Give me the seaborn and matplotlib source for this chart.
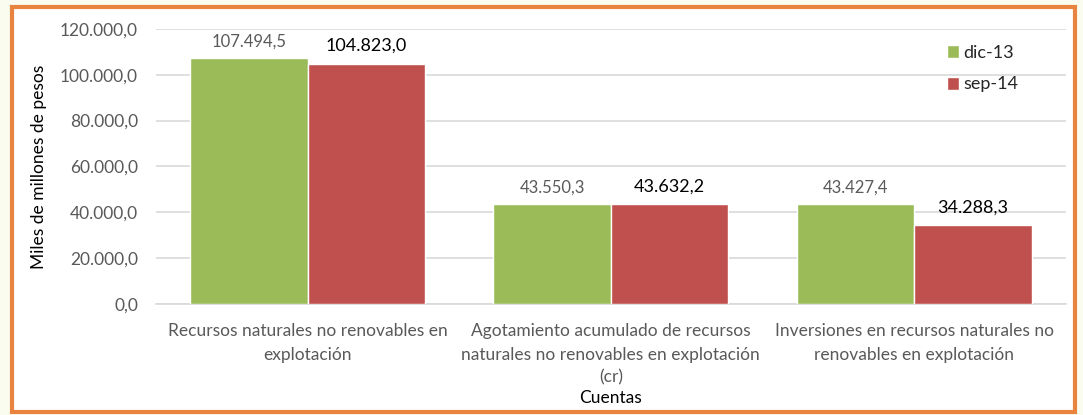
import matplotlib
matplotlib.use("Agg")
import matplotlib.pyplot as plt
import seaborn as sns
import pandas as pd
from matplotlib.patches import Rectangle
from matplotlib.ticker import FuncFormatter

cuentas = [
    "Recursos naturales no renovables en\nexplotación",
    "Agotamiento acumulado de recursos\nnaturales no renovables en explotación\n(cr)",
    "Inversiones en recursos naturales no\nrenovables en explotación",
]
periodos = ["dic-13", "sep-14"]
dic_13 = [107494.5, 43550.3, 43427.4]
sep_14 = [104823.0, 43632.2, 34288.3]
colores = ["#9BBB59", "#C0504D"]

GRIS = "#595959"


def fmt_es(v, pos=None):
    s = f"{v:,.1f}"
    return s.replace(",", "X").replace(".", ",").replace("X", ".")


df = pd.DataFrame({
    "Cuentas": cuentas * 2,
    "Periodo": [periodos[0]] * 3 + [periodos[1]] * 3,
    "Valor": dic_13 + sep_14,
})

sns.set_style("white")
plt.rcParams["font.family"] = ["Lato", "DejaVu Sans"]

fig = plt.figure(figsize=(10.83, 4.15), dpi=100, facecolor="#FAFCEF")
fig.patches.append(Rectangle((12 / 1083, 3 / 415), 1063 / 1083, 405 / 415,
                             transform=fig.transFigure, facecolor="white",
                             edgecolor="#E8843F", linewidth=3, zorder=-10))
ax = fig.add_axes([0.144, 0.2675, 0.840, 0.663])
ax.set_facecolor("none")

sns.barplot(data=df, x="Cuentas", y="Valor", hue="Periodo", palette=colores,
            width=0.775, gap=0, saturation=1, errorbar=None, ax=ax, zorder=3)

ax.set_ylim(0, 120000)
ax.set_yticks(range(0, 120001, 20000))
ax.yaxis.set_major_formatter(FuncFormatter(fmt_es))
ax.grid(axis="y", color="#D9D9D9", linewidth=1.2, zorder=0)
ax.set_axisbelow(True)
for s in ["top", "right", "left"]:
    ax.spines[s].set_visible(False)
ax.spines["bottom"].set_color("#D9D9D9")
ax.spines["bottom"].set_linewidth(1.2)
ax.tick_params(axis="both", length=0, labelsize=12.5, labelcolor=GRIS)
ax.tick_params(axis="x", pad=14)
ax.tick_params(axis="y", pad=13)
ax.set_xticks(range(len(cuentas)))
ax.set_xticklabels(cuentas, linespacing=1.55)

ax.set_xlabel("Cuentas", fontsize=12.5, color="black", labelpad=3)
ax.set_ylabel("Miles de millones de pesos", fontsize=12.5, color="black", labelpad=9)

for cont, col, size, off in zip(ax.containers, [GRIS, "black"], [12, 13], [6, 7]):
    for bar in cont:
        h = bar.get_height()
        ax.annotate(fmt_es(h), (bar.get_x() + bar.get_width() / 2, h),
                    xytext=(0, off), textcoords="offset points",
                    ha="center", va="bottom", color=col, fontsize=size)

leg = ax.legend(loc="upper right", bbox_to_anchor=(0.966, 1.0), frameon=False,
                fontsize=13, handlelength=0.65, handleheight=0.75,
                handletextpad=0.25, labelspacing=0.85)

fig.savefig("out.png", dpi=100, facecolor=fig.get_facecolor())
